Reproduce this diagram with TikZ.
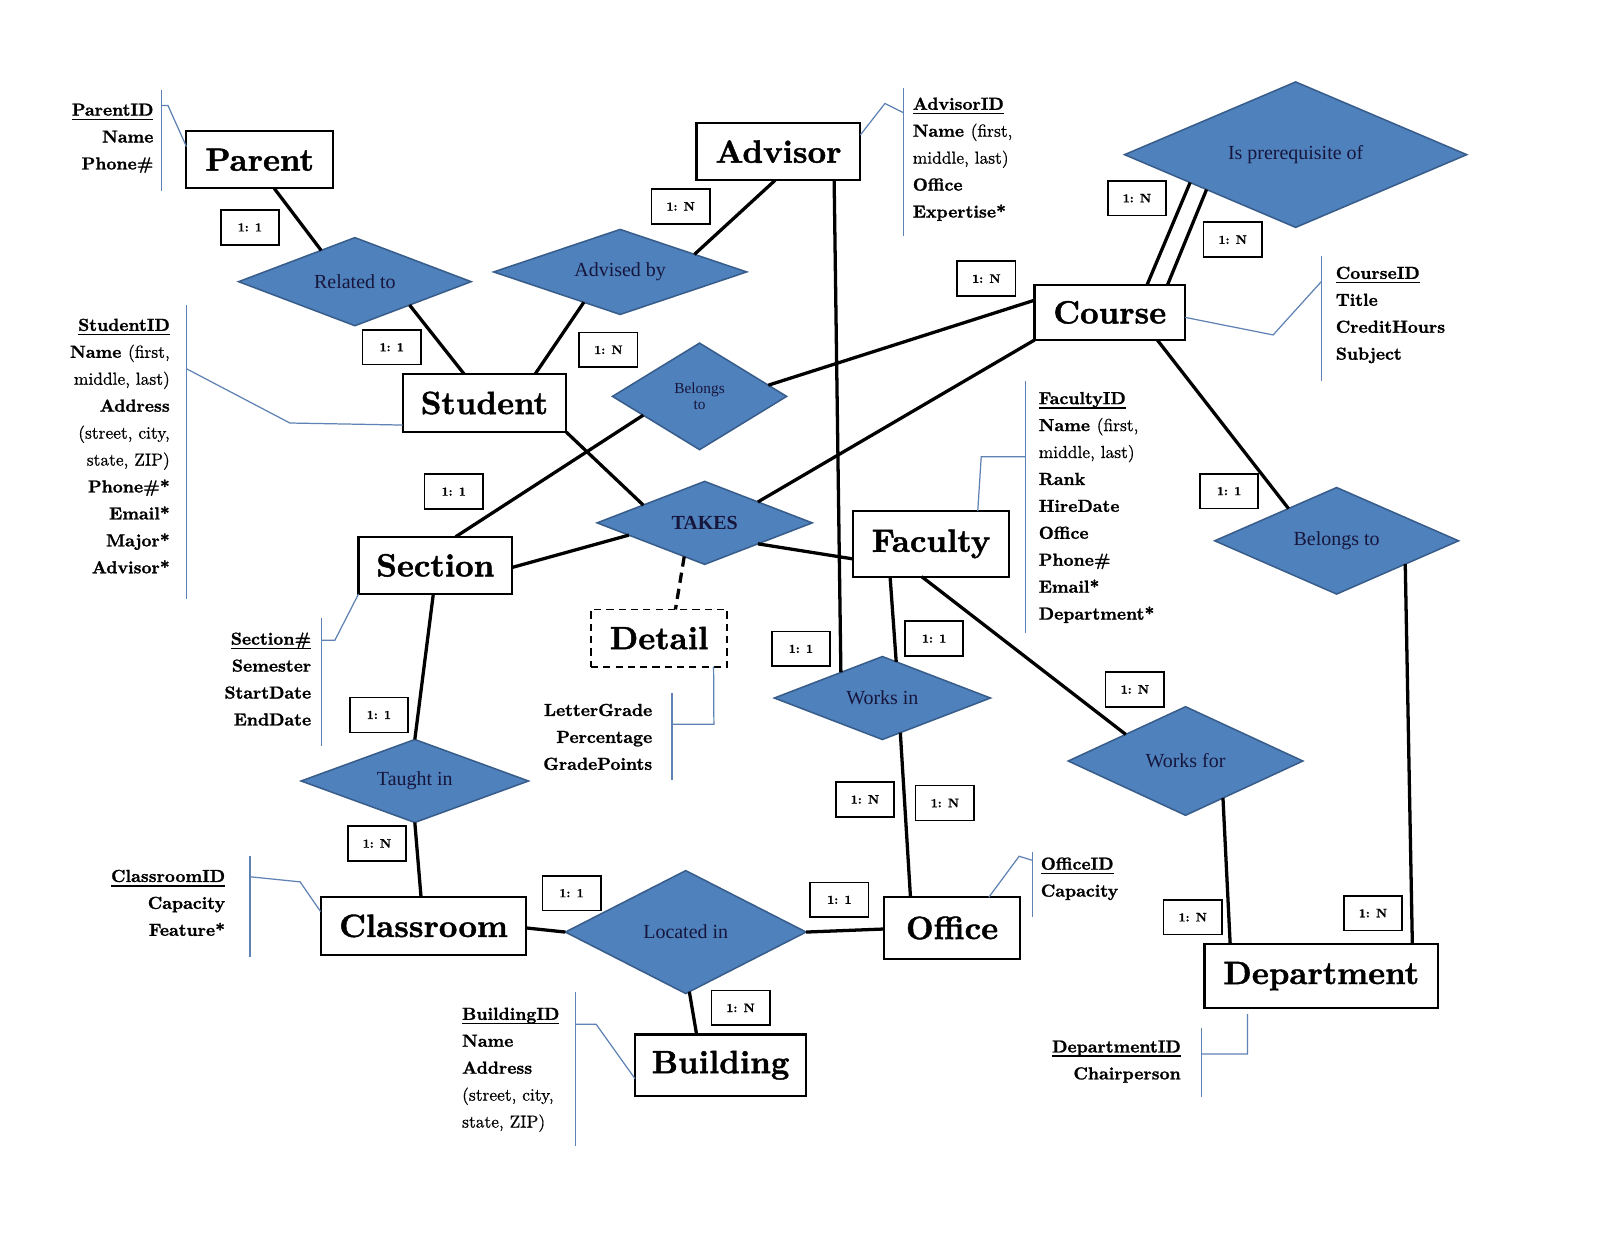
\documentclass[tikz,border=0pt]{standalone}
\usepackage{fontspec}
\setmainfont{lmroman10-regular}[Extension=.otf, BoldFont=lmroman10-bold, ItalicFont=lmroman10-italic, BoldItalicFont=lmroman10-bolditalic, UprightFeatures={FakeBold=0.6}, BoldFeatures={FakeBold=1.3}]
\usetikzlibrary{shapes.geometric,calc}
\newfontfamily\relfont{Liberation Serif}
\definecolor{dfill}{RGB}{79,129,189}
\definecolor{dborder}{RGB}{56,93,138}
\definecolor{navy}{RGB}{22,22,60}
\definecolor{aline}{RGB}{95,130,180}
\newsavebox\ulbox
\newcommand{\myul}[1]{\sbox\ulbox{#1}\leavevmode\rlap{\rule[-4.5pt]{\wd\ulbox}{1.6pt}}\usebox\ulbox}
\tikzset{
 entbox/.style={draw, line width=2pt, inner sep=0pt, outer sep=0pt, font=\fontsize{31.5}{36}\selectfont\bfseries},
 relshape/.style={shape=diamond, draw=dborder, fill=dfill, line width=1.5pt, inner sep=0pt, outer sep=0pt, text=navy, font=\relfont\fontsize{19.5}{22}\selectfont},
 cardbox/.style={draw, line width=1.6pt, minimum width=57pt, minimum height=34pt, inner sep=0pt, outer sep=0pt, font=\fontsize{12}{14}\selectfont\bfseries},
 conline/.style={line width=3.2pt},
 attrline/.style={draw=aline, line width=1.2pt},
 attrtext/.style={inner sep=0pt, font=\fontsize{17}{26.3}\selectfont\bfseries},
}
\begin{document}
\begin{tikzpicture}[x=1pt,y=-1pt]
\fill[white] (0,0) rectangle (1568,1212);
\useasboundingbox (0,0) rectangle (1568,1212);

% entities
\node[entbox, minimum width=143pt, minimum height=56pt] (parent) at (253.5,156) {Parent};
\node[entbox, minimum width=160pt, minimum height=56pt] (advisor) at (760,148) {Advisor};
\node[entbox, minimum width=147pt, minimum height=54pt] (course) at (1083.5,305) {Course};
\node[entbox, minimum width=160pt, minimum height=57pt] (student) at (473,393.5) {Student};
\node[entbox, minimum width=150pt, minimum height=56pt] (section) at (425,552) {Section};
\node[entbox, minimum width=152pt, minimum height=64pt] (faculty) at (909,531) {Faculty};
\node[entbox, dash pattern=on 7pt off 5pt, line width=1.8pt, minimum width=133pt, minimum height=56pt] (detail) at (643.5,623) {Detail};
\node[entbox, minimum width=201pt, minimum height=56pt] (classroom) at (413.5,904) {Classroom};
\node[entbox, minimum width=133pt, minimum height=60pt] (office) at (929.5,906) {Office};
\node[entbox, minimum width=167pt, minimum height=60pt] (building) at (703.5,1040) {Building};
\node[entbox, minimum width=228pt, minimum height=62pt] (dept) at (1290,953) {Department};

% relationships
\node[relshape, minimum width=227pt, minimum height=86pt, aspect=2.64] (rel) at (346.5,275) {Related to};
\node[relshape, minimum width=247pt, minimum height=83pt, aspect=2.98] (adv) at (605.5,265.5) {Advised by};
\node[relshape, minimum width=334pt, minimum height=142pt, aspect=2.35] (prereq) at (1265,151) {Is prerequisite of};
\node[relshape, minimum width=170pt, minimum height=104pt, aspect=1.63, align=center, font=\relfont\fontsize{15}{15}\selectfont] (belsec) at (683,387) {Belongs\\to};
\node[relshape, minimum width=210pt, minimum height=81pt, aspect=2.6, font=\relfont\fontsize{19.5}{22}\selectfont\bfseries] (takes) at (688,510.5) {TAKES};
\node[relshape, minimum width=238pt, minimum height=104pt, aspect=2.29] (belcd) at (1305,528) {Belongs to};
\node[relshape, minimum width=211pt, minimum height=81pt, aspect=2.6] (worksin) at (861.5,681.5) {Works in};
\node[relshape, minimum width=229pt, minimum height=106pt, aspect=2.16] (worksfor) at (1157.5,743) {Works for};
\node[relshape, minimum width=222pt, minimum height=81pt, aspect=2.74] (taught) at (405,762.5) {Taught in};
\node[relshape, minimum width=235pt, minimum height=120pt, aspect=1.96] (located) at (669.5,910) {Located in};

% connectors
\draw[conline] ($(parent.south west)!0.6!(parent.south east)$) -- ($(rel.north)!0.29!(rel.west)$);
\draw[conline] ($(rel.east)!0.53!(rel.south)$) -- ($(student.north west)!0.375!(student.north east)$);
\draw[conline] ($(advisor.south west)!0.48!(advisor.south east)$) -- ($(adv.north)!0.587!(adv.east)$);
\draw[conline] ($(adv.south)!0.287!(adv.west)$) -- ($(student.north west)!0.81!(student.north east)$);
\draw[conline] ($(advisor.south west)!0.84!(advisor.south east)$) -- ($(worksin.north)!0.384!(worksin.west)$);
\draw[conline] ($(course.north west)!0.28!(course.south west)$) -- ($(belsec.north)!0.79!(belsec.east)$);
\draw[conline] ($(belsec.west)!0.353!(belsec.south)$) -- ($(section.north west)!0.633!(section.north east)$);
\draw[conline] (course.south west) -- ($(takes.north)!0.495!(takes.east)$);
\draw[conline] (student.south east) -- ($(takes.north)!0.571!(takes.west)$);
\draw[conline] ($(takes.west)!0.295!(takes.south)$) -- ($(section.north east)!0.536!(section.south east)$);
\draw[conline] ($(takes.south)!0.495!(takes.east)$) -- ($(faculty.north west)!0.73!(faculty.south west)$);
\draw[conline, dash pattern=on 10pt off 6pt] ($(takes.south)!0.19!(takes.west)$) -- ($(detail.north west)!0.62!(detail.north east)$);
\draw[conline] ($(section.south west)!0.487!(section.south east)$) -- (taught.north);
\draw[conline] (taught.south) -- ($(classroom.north west)!0.488!(classroom.north east)$);
\draw[conline] ($(classroom.north east)!0.536!(classroom.south east)$) -- (located.west);
\draw[conline] (located.east) -- ($(office.north west)!0.517!(office.south west)$);
\draw[conline] ($(located.south)!0.03!(located.east)$) -- ($(building.north west)!0.36!(building.north east)$);
\draw[conline] ($(faculty.south west)!0.237!(faculty.south east)$) -- ($(worksin.north)!0.128!(worksin.east)$);
\draw[conline] ($(worksin.south)!0.166!(worksin.east)$) -- ($(office.north west)!0.195!(office.north east)$);
\draw[conline] ($(faculty.south west)!0.44!(faculty.south east)$) -- ($(worksfor.north)!0.51!(worksfor.west)$);
\draw[conline] ($(worksfor.south)!0.319!(worksfor.east)$) -- ($(dept.north west)!0.11!(dept.north east)$);
\draw[conline] ($(course.south west)!0.816!(course.south east)$) -- ($(belcd.north)!0.395!(belcd.west)$);
\draw[conline] ($(belcd.south)!0.563!(belcd.east)$) -- ($(dept.north west)!0.89!(dept.north east)$);
\draw[conline] ($(course.north west)!0.748!(course.north east)$) -- ($(prereq.west)!0.383!(prereq.south)$);
\draw[conline] ($(course.north west)!0.884!(course.north east)$) -- ($(prereq.west)!0.479!(prereq.south)$);

% cardinalities
\foreach \n/\x/\y/\t in {c1/244/222/1, c2/382.5/339/1, c3/664.5/201.5/N, c4/594/341.5/N,
  c5/1110/193.5/N, c6/1203.5/234/N, c7/963/272/N, c8/443/480/1, c9/1200/479.5/1,
  c10/370/698/1, c11/368/823.5/N, c12/782/633.5/1, c13/912/623.5/1, c14/1108/673/N,
  c15/844.5/780.5/N, c16/922.5/784/N, c17/558/872/1, c18/819.5/878.5/1, c19/723/984/N,
  c20/1164.5/895.5/N, c21/1340.5/891.5/N}
  \node[cardbox] (\n) at (\x,\y) {1: \t};

% attribute groups
% Parent
\coordinate (pa1) at (158,88); \coordinate (pa2) at (158,186); \coordinate (paj) at (158,103);
\draw[attrline] (pa1) -- (pa2);
\draw[attrline] (paj) -- ++(6,0) -- ($(parent.north west)!0.27!(parent.south west)$);
\node[attrtext, align=right, anchor=east] (parentattr) at (150,135) {\myul{ParentID}\\Name\\Phone\#};
% Advisor
\coordinate (ad1) at (882,86); \coordinate (ad2) at (882,230); \coordinate (adj) at (882,110);
\draw[attrline] (ad1) -- (ad2);
\draw[attrline] ($(advisor.north east)!0.21!(advisor.south east)$) -- (864,101) -- (adj);
\node[attrtext, align=left, anchor=west] (advisorattr) at (891,155.5) {\myul{AdvisorID}\\Name {\mdseries(first,}\\{\mdseries middle, last)}\\Office\\Expertise*};
% Course
\coordinate (co1) at (1290,250); \coordinate (co2) at (1290,372); \coordinate (coj) at (1290,275);
\draw[attrline] (co1) -- (co2);
\draw[attrline] ($(course.north east)!0.59!(course.south east)$) -- (1243,327) -- (coj);
\node[attrtext, align=left, anchor=west] (courseattr) at (1304,307.5) {\myul{CourseID}\\Title\\CreditHours\\Subject};
% Student
\coordinate (st1) at (182,298); \coordinate (st2) at (182,585); \coordinate (stj) at (182,360);
\draw[attrline] (st1) -- (st2);
\draw[attrline] (stj) -- (283,413) -- ($(student.north west)!0.877!(student.south west)$);
\node[attrtext, align=right, anchor=east] (studentattr) at (166,435.5) {\myul{StudentID}\\Name {\mdseries(first,}\\{\mdseries middle, last)}\\Address\\{\mdseries(street, city,}\\{\mdseries state, ZIP)}\\Phone\#*\\Email*\\Major*\\Advisor*};
% Faculty
\coordinate (fa1) at (1001,372); \coordinate (fa2) at (1001,618); \coordinate (faj) at (1001,446);
\draw[attrline] (fa1) -- (fa2);
\draw[attrline] ($(faculty.north west)!0.8!(faculty.north east)$) -- (958,446) -- (faj);
\node[attrtext, align=left, anchor=west] (facultyattr) at (1014,495.5) {\myul{FacultyID}\\Name {\mdseries(first,}\\{\mdseries middle, last)}\\Rank\\HireDate\\Office\\Phone\#\\Email*\\Department*};
% Section
\coordinate (se1) at (314,603); \coordinate (se2) at (314,728); \coordinate (sej) at (314,625);
\draw[attrline] (se1) -- (se2);
\draw[attrline] (section.south west) -- (327,625) -- (sej);
\node[attrtext, align=right, anchor=east] (sectionattr) at (304,663) {\myul{Section\#}\\Semester\\StartDate\\EndDate};
% Detail
\coordinate (de1) at (656,677); \coordinate (de2) at (656,762); \coordinate (dej) at (656,707);
\draw[attrline] (de1) -- (de2);
\draw[attrline] (dej) -- (697,707) -- ($(detail.south west)!0.9!(detail.south east)$);
\node[attrtext, align=right, anchor=east] (detailattr) at (637,719.5) {LetterGrade\\Percentage\\GradePoints};
% Classroom
\coordinate (cl1) at (244,836); \coordinate (cl2) at (244,934); \coordinate (clj) at (244,856);
\draw[attrline] (cl1) -- (cl2);
\draw[attrline] (clj) -- (293,861) -- ($(classroom.north west)!0.25!(classroom.south west)$);
\node[attrtext, align=right, anchor=east] (classroomattr) at (220,881.5) {\myul{ClassroomID}\\Capacity\\Feature*};
% Office
\coordinate (of1) at (1008,832); \coordinate (of2) at (1008,895); \coordinate (ofj) at (1008,840);
\draw[attrline] (of1) -- (of2);
\draw[attrline] ($(office.north west)!0.77!(office.north east)$) -- (995,836) -- (ofj);
\node[attrtext, align=left, anchor=west] (officeattr) at (1016,858) {\myul{OfficeID}\\Capacity};
% Building
\coordinate (bu1) at (562,969); \coordinate (bu2) at (562,1119); \coordinate (buj) at (562,1000);
\draw[attrline] (bu1) -- (bu2);
\draw[attrline] (buj) -- (582,1000) -- ($(building.north west)!0.72!(building.south west)$);
\node[attrtext, align=left, anchor=west] (buildingattr) at (451,1044.5) {\myul{BuildingID}\\Name\\Address\\{\mdseries(street, city,}\\{\mdseries state, ZIP)}};
% Department
\coordinate (dp1) at (1173,1004); \coordinate (dp2) at (1173,1071); \coordinate (dpj) at (1173,1029);
\draw[attrline] (dp1) -- (dp2);
\draw[attrline] (dpj) -- (1218,1029) -- ($(dept.south west)!0.184!(dept.south east)+(0,6)$);
\node[attrtext, align=right, anchor=east] (deptattr) at (1153,1036.5) {\myul{DepartmentID}\\Chairperson};
\end{tikzpicture}
\end{document}
